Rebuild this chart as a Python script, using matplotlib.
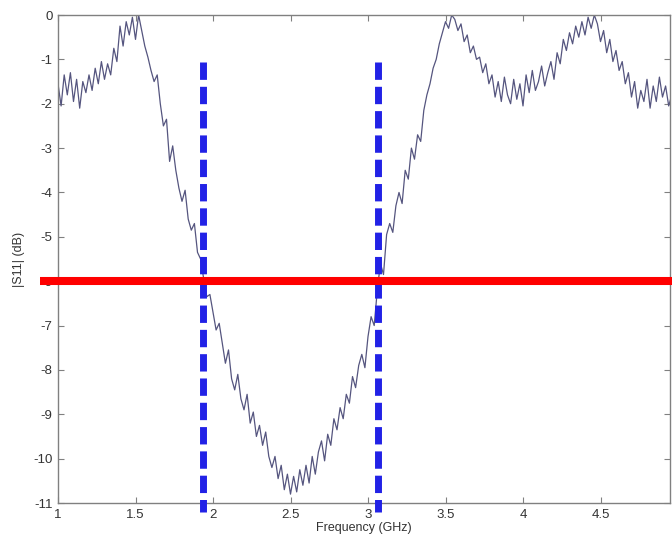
import numpy as np
import matplotlib
matplotlib.use("Agg")
import matplotlib.pyplot as plt

plt.rcParams['font.family'] = ['Liberation Sans', 'DejaVu Sans']

# sweep: 1.00 GHz to 4.96 GHz, 0.02 GHz step
f_start, f_step = 1.00, 0.02

# |S11| in dB, 10 points per 0.2 GHz
s11_db = [
    -1.55, -2.05, -1.35, -1.80, -1.30, -1.95, -1.45, -2.10, -1.50, -1.75,
    -1.35, -1.70, -1.20, -1.55, -1.05, -1.45, -1.10, -1.35, -0.75, -1.05,
    -0.25, -0.70, -0.15, -0.45, -0.05, -0.55, 0.00, -0.35, -0.70, -0.95,
    -1.25, -1.50, -1.35, -2.00, -2.50, -2.35, -3.30, -2.95, -3.50, -3.90,
    -4.20, -3.95, -4.60, -4.85, -4.70, -5.35, -5.50, -5.95, -6.35, -6.30,
    -6.70, -7.10, -6.95, -7.40, -7.85, -7.55, -8.20, -8.45, -8.10, -8.65,
    -8.90, -8.55, -9.20, -8.95, -9.50, -9.25, -9.70, -9.40, -9.95, -10.20,
    -9.95, -10.45, -10.15, -10.70, -10.35, -10.80, -10.40, -10.75, -10.25, -10.60,
    -10.15, -10.55, -9.95, -10.35, -9.85, -9.60, -10.05, -9.45, -9.70, -9.10,
    -9.35, -8.85, -9.10, -8.55, -8.75, -8.15, -8.40, -7.90, -7.65, -7.95,
    -7.25, -6.80, -7.00, -6.20, -5.60, -5.85, -4.95, -4.70, -4.90, -4.30,
    -4.00, -4.25, -3.50, -3.70, -3.00, -3.25, -2.70, -2.85, -2.15, -1.80,
    -1.55, -1.20, -1.00, -0.65, -0.40, -0.15, -0.30, 0.00, -0.10, -0.35,
    -0.20, -0.60, -0.45, -0.85, -0.70, -1.00, -0.95, -1.30, -1.10, -1.55,
    -1.35, -1.85, -1.50, -1.95, -1.40, -1.80, -2.00, -1.45, -1.90, -1.55,
    -2.05, -1.35, -1.75, -1.25, -1.70, -1.50, -1.15, -1.60, -1.30, -1.05,
    -1.45, -0.85, -1.10, -0.55, -0.80, -0.40, -0.65, -0.25, -0.50, -0.15,
    -0.45, -0.05, -0.30, 0.00, -0.20, -0.60, -0.35, -0.85, -0.55, -1.05,
    -0.80, -1.25, -1.05, -1.55, -1.30, -1.85, -1.50, -2.10, -1.70, -1.95,
    -1.45, -2.10, -1.60, -1.95, -1.40, -1.85, -1.60, -2.05, -1.80,
]
freq = f_start + f_step * np.arange(len(s11_db))

# -6 dB bandwidth markers
threshold_db = -6
band_edges = [1.935, 3.065]
marker_top, marker_bottom = -1.05, -11.2

xticks = [1, 1.5, 2, 2.5, 3, 3.5, 4, 4.5]
yticks = list(range(-11, 1))

fig = plt.figure(figsize=(6.72, 5.39), dpi=100)
ax = fig.add_axes([58 / 672, 36 / 539, 612 / 672, 488 / 539])

ax.plot(freq, s11_db, color="#55557f", lw=0.9)

for fe in band_edges:
    ax.plot([fe, fe], [marker_top, marker_bottom], color="#2222e6", lw=5,
            dashes=(2.5, 1.0), solid_capstyle="butt", dash_capstyle="butt",
            clip_on=False, zorder=9)

ax.plot([0.884, 5.2], [threshold_db, threshold_db], color="#ff0000", lw=5.8,
        solid_capstyle="butt", clip_on=False, zorder=10)

ax.set_xlim(1, 1 + 612 / 155)
ax.set_ylim(-11, 0)
ax.set_xticks(xticks)
ax.set_xticklabels([f"{t:g}" for t in xticks])
ax.set_yticks(yticks)
ax.set_yticklabels([str(t) for t in yticks])

for s in ax.spines.values():
    s.set_color("#808080")
    s.set_linewidth(1.0)
ax.tick_params(direction="in", length=4, width=0.8, color="#808080",
               top=True, right=True, labelsize=9.5, labelcolor="#333333", pad=4)

ax.set_xlabel("Frequency (GHz)", fontsize=9, color="#333333", labelpad=1)
ax.set_ylabel("|S11| (dB)", fontsize=9, color="#333333", labelpad=6)

fig.savefig("out.png", dpi=100)
